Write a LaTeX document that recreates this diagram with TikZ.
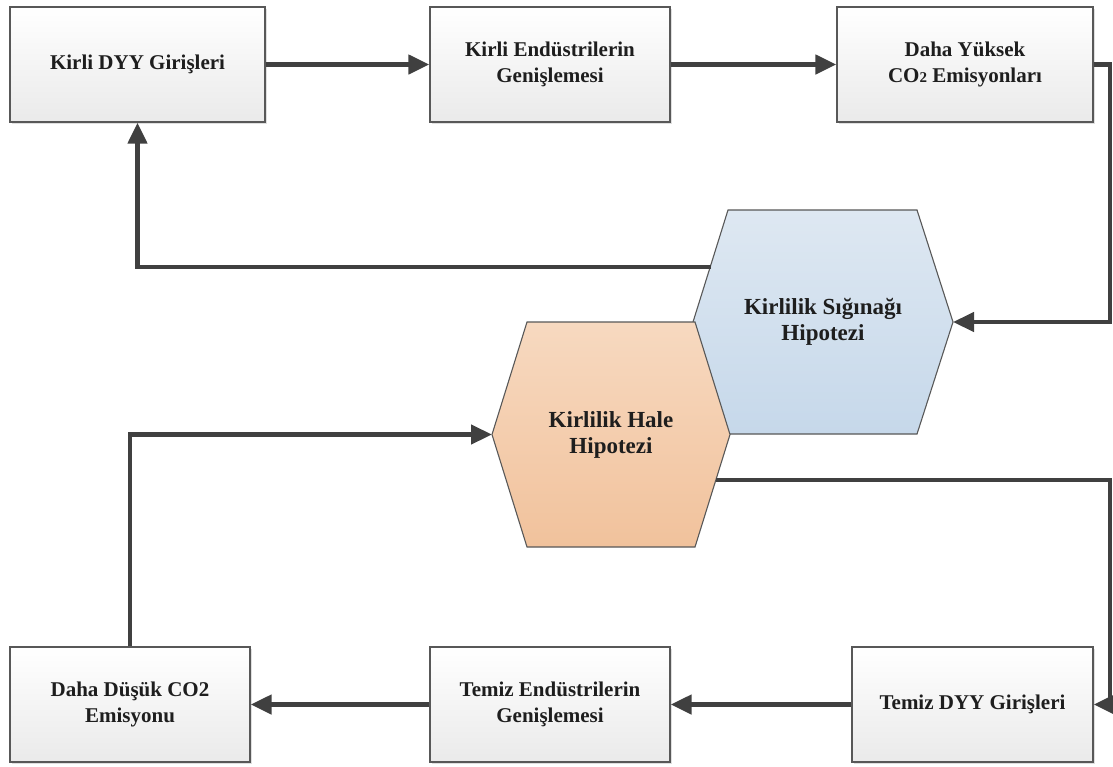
\documentclass[tikz,border=0pt]{standalone}
\usepackage{fontspec}
\setmainfont{Liberation Serif}
\usetikzlibrary{arrows.meta,shadows}

\definecolor{flowgray}{HTML}{404040}
\definecolor{boxline}{HTML}{585858}
\definecolor{boxbot}{HTML}{EAEAEA}
\definecolor{txt}{HTML}{1E1E1E}
\definecolor{sigtop}{HTML}{DEE8F2}
\definecolor{sigbot}{HTML}{C6D8EA}
\definecolor{haletop}{HTML}{F7D9C0}
\definecolor{halebot}{HTML}{F1C29C}

\begin{document}
\begin{tikzpicture}
  [x=1pt,y=-1pt,
   box/.style={rectangle,draw=boxline,line width=1.3pt,top color=white,bottom color=boxbot,
     minimum height=115pt,align=center,text=txt,font=\bfseries\fontsize{21}{26}\selectfont,
     drop shadow={shadow xshift=1.5pt,shadow yshift=-1.5pt,fill=black!25}},
   hexa/.style={draw=boxline,line width=1.1pt},
   hexlabel/.style={align=center,text=txt,font=\bfseries\fontsize{23}{26}\selectfont},
   flow/.style={draw=flowgray,line width=4.5pt,-{Triangle[length=21pt,width=19pt]}}]
  \useasboundingbox (0,0) rectangle (1113,766);

  \node[box,minimum width=255pt] (kdyy)   at (137.5,64.5) {Kirli DYY Girişleri};
  \node[box,minimum width=240pt] (kend)   at (550,64.5)   {Kirli Endüstrilerin\\Genişlemesi};
  \node[box,minimum width=256pt] (yuksek) at (965,64.5)   {Daha Yüksek\\CO{\fontsize{15}{15}\selectfont 2} Emisyonları};
  \node[box,minimum width=240pt] (dusuk)  at (130,704.5)  {Daha Düşük CO2\\Emisyonu};
  \node[box,minimum width=240pt] (tend)   at (550,704.5)  {Temiz Endüstrilerin\\Genişlemesi};
  \node[box,minimum width=241pt] (tdyy)   at (972.5,704.5) {Temiz DYY Girişleri};

  % hypotheses
  \shade[hexa,top color=sigtop,bottom color=sigbot]
    (728,210) -- (917,210) -- (953,322) -- (917,434) -- (728,434) -- (693,322) -- cycle;
  \shade[hexa,top color=haletop,bottom color=halebot]
    (527,322) -- (695,322) -- (730,434.5) -- (695,547) -- (527,547) -- (492,434.5) -- cycle;
  \node[hexlabel] (sig)  at (823,322)   {Kirlilik Sığınağı\\Hipotezi};
  \node[hexlabel] (hale) at (611,434.5) {Kirlilik Hale\\Hipotezi};

  \coordinate (sigE)  at (953,322);
  \coordinate (sigW)  at (711,267);
  \coordinate (haleW) at (492,434.5);
  \coordinate (haleE) at (716,480);
  \coordinate (rail)  at (1110,0);

  \foreach \from/\to in {kdyy/kend,kend/yuksek,tdyy/tend,tend/dusuk}
    \draw[flow] (\from) -- (\to);

  \draw[flow] (yuksek.east) -- (yuksek.east -| rail) |- (sigE);
  \draw[flow] (sigW) -| (kdyy.south);
  \draw[flow] (haleE) -- (haleE -| rail) |- (tdyy.east);
  \draw[flow] (dusuk.north) |- (haleW);

\end{tikzpicture}
\end{document}
